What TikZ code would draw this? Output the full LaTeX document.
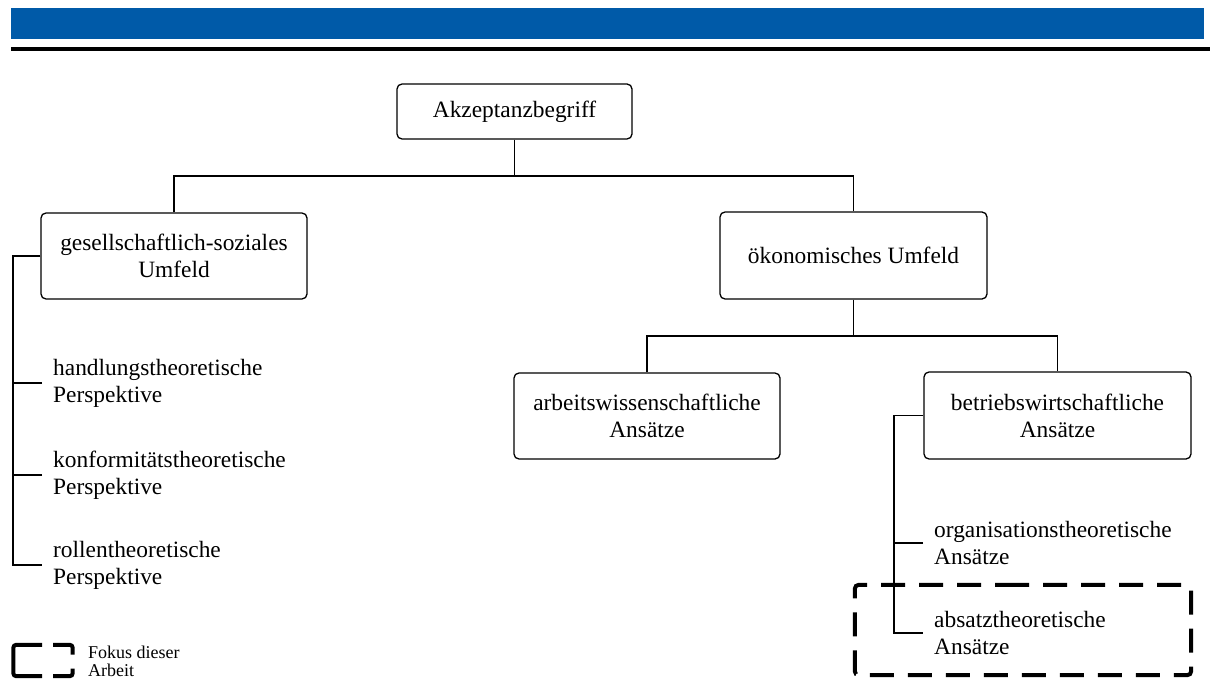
\documentclass[tikz,border=0pt]{standalone}
\usepackage{fontspec}
\setmainfont{Liberation Serif}
\definecolor{barblue}{RGB}{0,90,168}
\newcommand{\mainsz}{\fontsize{23.4}{27}\selectfont}
\newcommand{\legsz}{\fontsize{18}{18}\selectfont}
\begin{document}
\begin{tikzpicture}[x=1pt,y=-1pt,
  boxnode/.style={draw, rounded corners=5pt, line width=1.3pt, align=center, inner sep=0pt, font=\mainsz},
  leafnode/.style={anchor=west, align=left, inner ysep=0pt, inner xsep=11pt, font=\mainsz},
  conn/.style={line width=1.5pt},
  focus/.style={line width=4pt, rounded corners=4pt, dash pattern=on 24pt off 14pt},
  legline/.style={line width=4pt, rounded corners=3pt}
]
\useasboundingbox (0,0) rectangle (1210,679);
\fill[barblue] (11,8) rectangle (1204,39);
\fill[black] (11,47) rectangle (1210,51);

\node[boxnode, minimum width=235pt, minimum height=55pt] (top) at (514.5,111.5) {Akzeptanzbegriff};
\node[boxnode, minimum width=266pt, minimum height=86pt] (soc) at (174,256) {gesellschaftlich-soziales\\Umfeld};
\node[boxnode, minimum width=267pt, minimum height=87pt] (oek) at (853.5,255.5) {ökonomisches Umfeld};
\node[boxnode, minimum width=266pt, minimum height=86pt] (arb) at (647,416) {arbeitswissenschaftliche\\Ansätze};
\node[boxnode, minimum width=267pt, minimum height=87pt] (bet) at (1057.5,415.5) {betriebswirtschaftliche\\Ansätze};

\node[leafnode] (hand) at (42,383) {handlungstheoretische\\Perspektive};
\node[leafnode] (konf) at (42,475) {konformitätstheoretische\\Perspektive};
\node[leafnode] (rol) at (42,565) {rollentheoretische\\Perspektive};
\node[leafnode] (org) at (923,543) {organisationstheoretische\\Ansätze};
\node[leafnode] (abs) at (923,633) {absatztheoretische\\Ansätze};

\coordinate (j1) at (514.5,176);
\coordinate (j2) at (853.5,336);
\coordinate (lc) at (13,565);
\coordinate (rc) at (894,633);

\draw[conn] (top.south) -- (j1);
\draw[conn] (soc.north) |- (j1) -| (oek.north);
\draw[conn] (oek.south) -- (j2);
\draw[conn] (arb.north) |- (j2) -| (bet.north);
\draw[conn] (soc.west) -| (lc) -- (rol.west);
\draw[conn] (hand.west) -- (hand.west -| lc);
\draw[conn] (konf.west) -- (konf.west -| lc);
\draw[conn] (bet.west) -| (rc) -- (abs.west);
\draw[conn] (org.west) -- (org.west -| rc);

\node[draw=none, minimum width=336pt, minimum height=90pt] (fokus) at (1023,630) {};
\draw[focus] (fokus.north) -- (fokus.north west) -- (fokus.south west) -- (fokus.south east) -- (fokus.north east) -- cycle;

% legend
\node[draw=none, minimum width=59pt, minimum height=31pt, inner sep=0pt] (leg) at (43,660.5) {};
\draw[legline] ([xshift=-1pt]leg.north) -| (leg.south west) -- ([xshift=-1pt]leg.south);
\draw[legline] ([xshift=10pt]leg.north) -| ([yshift=6pt]leg.east);
\draw[legline] ([xshift=10pt]leg.south) -| ([yshift=-8pt]leg.east);
\node[anchor=west, align=left, inner sep=0pt, font=\legsz] (legtxt) at (88,661) {Fokus dieser\\Arbeit};
\end{tikzpicture}
\end{document}
